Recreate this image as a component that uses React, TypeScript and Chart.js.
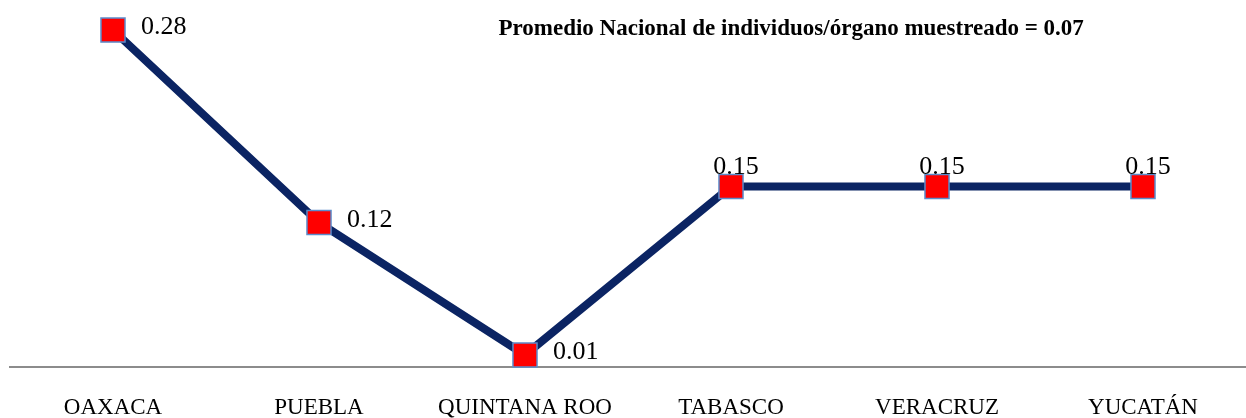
import React, { useEffect, useRef } from "react";
import { Chart, registerables } from "chart.js";

Chart.register(...registerables);

const categories = ["OAXACA", "PUEBLA", "QUINTANA ROO", "TABASCO", "VERACRUZ", "YUCATÁN"];
const values = [0.28, 0.12, 0.01, 0.15, 0.15, 0.15];
const valueLabels = ["0.28", "0.12", "0.01", "0.15", "0.15", "0.15"];
const labelSides = ["right", "right", "right", "above", "above", "above"];
const noteText = "Promedio Nacional de individuos/órgano muestreado = 0.07";

const SERIF = "'Liberation Serif', 'DejaVu Serif', serif";

const labelPlugin = {
  id: "valueLabels",
  afterDatasetsDraw(chart: any) {
    const ctx = chart.ctx;
    const meta = chart.getDatasetMeta(0);
    ctx.save();
    ctx.fillStyle = "#000000";
    ctx.font = `26px ${SERIF}`;
    meta.data.forEach((pt: any, i: number) => {
      const side = labelSides[i];
      ctx.textBaseline = "alphabetic";
      if (side === "right") {
        ctx.textAlign = "left";
        ctx.fillText(valueLabels[i], pt.x + 28, pt.y + 4);
      } else {
        ctx.textAlign = "center";
        ctx.fillText(valueLabels[i], pt.x + 5, pt.y - 13);
      }
    });
    const area = chart.chartArea;
    ctx.font = `bold 23px ${SERIF}`;
    ctx.textAlign = "center";
    ctx.textBaseline = "alphabetic";
    ctx.fillText(noteText, area.left + (area.right - area.left) * 0.632, 35);
    ctx.restore();
  },
};

export default function App() {
  const ref = useRef<HTMLCanvasElement | null>(null);
  useEffect(() => {
    if (!ref.current) return;
    const chart = new Chart(ref.current, {
      type: "line",
      data: {
        labels: categories,
        datasets: [
          {
            data: values,
            borderColor: "#0b2463",
            borderWidth: 8,
            pointStyle: "rect",
            pointRadius: 17,
            pointBackgroundColor: "#ff0000",
            pointBorderColor: "#5b8ccc",
            pointBorderWidth: 1.5,
            tension: 0,
            fill: false,
            clip: false as any,
          },
        ],
      },
      options: {
        animation: false,
        responsive: false,
        maintainAspectRatio: false,
        layout: { autoPadding: false, padding: { left: 10, right: 0, top: 6, bottom: 0 } },
        plugins: {
          legend: { display: false },
          tooltip: { enabled: false },
          title: { display: false },
        },
        scales: {
          x: {
            offset: true,
            grid: { display: false, drawTicks: false },
            border: { display: true, color: "#8c8c8c", width: 2 },
            ticks: {
              color: "#000000",
              font: { family: SERIF, size: 23 },
              padding: 27,
              maxRotation: 0,
              autoSkip: false,
            },
            afterFit(scale: any) {
              scale.height = 51;
            },
          },
          y: {
            display: false,
            min: 0,
            max: 0.3,
          },
        },
      },
      plugins: [labelPlugin],
    });
    return () => chart.destroy();
  }, []);
  return (
    <div style={{ position: "fixed", left: 0, top: 0, width: 1246, height: 418, background: "#ffffff" }}>
      <canvas ref={ref} width={1246} height={418} style={{ width: 1246, height: 418 }} />
    </div>
  );
}
